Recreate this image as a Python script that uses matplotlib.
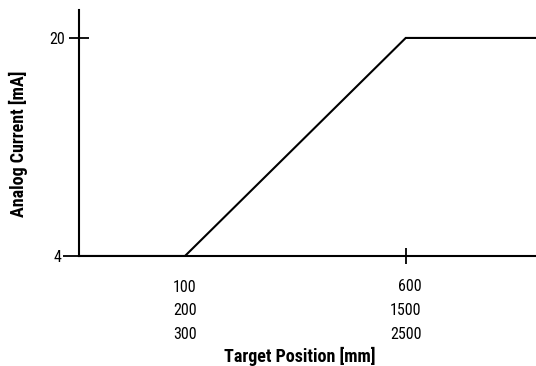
import matplotlib
matplotlib.use("Agg")
import matplotlib.pyplot as plt

# Data
positions = [0.52, 1.0, 2.0, 2.59]          # abstract position axis
current_ma = [4, 4, 20, 20]
x_tick_pos = [1.0, 2.0]
x_tick_labels = ["100\n200\n300", "600\n1500\n2500"]
y_ticks = [4, 20]
y_tick_labels = ["4", "20"]

plt.rcParams['font.family'] = ['Roboto Condensed', 'DejaVu Sans']

W, H = 536, 366
fig = plt.figure(figsize=(W / 100, H / 100), dpi=100)
ax_l, ax_b, ax_t = 79, 256, 10
ax = fig.add_axes([ax_l / W, 1 - ax_b / H, 1 - ax_l / W, (ax_b - ax_t) / H])
aw, ah = W - ax_l, ax_b - ax_t

ax.plot(positions, current_ma, color='black', lw=1.5, solid_joinstyle='miter')
ax.set_xlim(positions[0], positions[-1])
ax.set_ylim(4, 22.05)

for s in ['top', 'right']:
    ax.spines[s].set_visible(False)
for s in ['left', 'bottom']:
    ax.spines[s].set_linewidth(1.5)

# x ticks: first one has no tick mark
ax.set_xticks([x_tick_pos[1]], [x_tick_labels[1]])
ax.set_xticks([x_tick_pos[0]], [x_tick_labels[0]], minor=True)
ax.tick_params(axis='x', which='major', direction='inout', length=11.5, width=1.3, pad=11)
ax.tick_params(axis='x', which='minor', length=0, pad=17)

# y ticks
ax.set_yticks([y_ticks[1]], [y_tick_labels[1]])
ax.set_yticks([y_ticks[0]], [y_tick_labels[0]], minor=True)
ax.tick_params(axis='y', which='major', direction='inout', length=14, width=1.3, pad=3)
ax.tick_params(axis='y', which='minor', direction='out', length=11.5, width=1.3, pad=1.5)

for lbl in ax.get_xticklabels() + ax.get_xticklabels(minor=True):
    lbl.set_fontsize(11.5)
    lbl.set_multialignment('right')
    lbl.set_linespacing(1.72)
for lbl in ax.get_yticklabels() + ax.get_yticklabels(minor=True):
    lbl.set_fontsize(11.5)

ax.set_xlabel("Target Position [mm]", fontsize=13, fontweight='bold', va='baseline')
ax.xaxis.set_label_coords((300 - ax_l) / aw, (ax_b - 362) / ah)
ax.set_ylabel("Analog Current [mA]", fontsize=13, fontweight='bold', va='center')
ax.yaxis.set_label_coords((18.5 - ax_l) / aw, (ax_b - 143.5) / ah)

fig.savefig("out.png", dpi=100)
